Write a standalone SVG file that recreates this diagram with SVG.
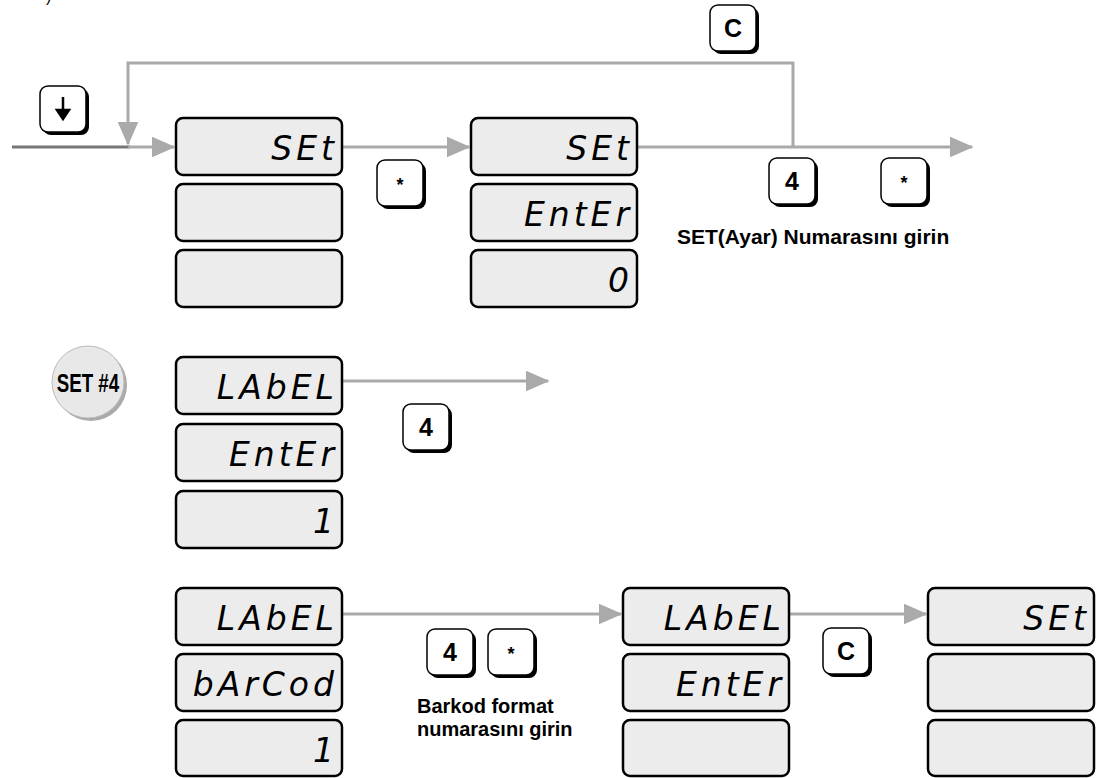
<svg xmlns="http://www.w3.org/2000/svg" width="1105" height="778" viewBox="0 0 1105 778">
<style>
.lcd{fill:#ececec;stroke:#000;stroke-width:2.5}
.seg{font-family:"DejaVu Sans",sans-serif;font-style:italic;font-size:33px;fill:#000;text-anchor:end;letter-spacing:4px}
.kshadow{fill:#000}
.kface{fill:#fff;stroke:#000;stroke-width:1.5}
.klbl{font-family:"Liberation Sans",Arial,sans-serif;font-weight:bold;font-size:25px;text-anchor:middle;fill:#000}
.kstar{font-family:"Liberation Sans",Arial,sans-serif;font-weight:bold;font-size:18px;text-anchor:middle;fill:#000}
.note{font-family:"Liberation Sans",Arial,sans-serif;font-weight:bold;font-size:21px;fill:#000}
.note2{font-family:"Liberation Sans",Arial,sans-serif;font-weight:bold;font-size:20px;fill:#000}
.line{fill:none;stroke:#aaa;stroke-width:3}
</style>
<defs>
<marker id="ah" markerWidth="8" markerHeight="7" refX="7.5" refY="3.5" orient="auto" markerUnits="strokeWidth">
<path d="M0,0 L8,3.5 L0,7 Z" fill="#aaa"/>
</marker>
<g id="key">
<rect class="kshadow" x="3" y="3" width="46" height="46" rx="8"/>
<rect class="kface" x="0" y="0" width="46" height="46" rx="8"/>
</g>
</defs>
<rect width="1105" height="778" fill="#fff"/>
<text x="46" y="2" font-family="Liberation Sans, sans-serif" font-size="16">)</text>

<g id="connectors">
<line x1="12" y1="147" x2="130" y2="147" stroke="#777" stroke-width="3"/>
<line class="line" x1="128" y1="147" x2="174" y2="147" marker-end="url(#ah)"/>
<polyline class="line" points="793,147 793,63 128,63 128,144" marker-end="url(#ah)"/>
<line class="line" x1="342" y1="147" x2="469" y2="147" marker-end="url(#ah)"/>
<line class="line" x1="637" y1="147" x2="972" y2="147" marker-end="url(#ah)"/>
<line class="line" x1="342" y1="381" x2="548" y2="381" marker-end="url(#ah)"/>
<line class="line" x1="342" y1="614" x2="621" y2="614" marker-end="url(#ah)"/>
<line class="line" x1="789" y1="614" x2="926" y2="614" marker-end="url(#ah)"/>
</g>

<g id="key-down"><use href="#key" x="40" y="86"/><path d="M63,97 V116 M57,110 L63,119 L69,110 Z" stroke="#000" stroke-width="2.5" fill="#000"/></g>

<g id="lcd1">
<rect class="lcd" x="176" y="118" width="166" height="57" rx="7"/>
<text class="seg" x="338" y="160">SEt</text>
<rect class="lcd" x="176" y="184" width="166" height="57" rx="7"/>
<rect class="lcd" x="176" y="250" width="166" height="57" rx="7"/>
</g>
<g id="key-star1"><use href="#key" x="377" y="160"/><text class="kstar" x="400" y="191">*</text></g>

<g id="lcd2">
<rect class="lcd" x="471" y="118" width="166" height="57" rx="7"/>
<text class="seg" x="633" y="160">SEt</text>
<rect class="lcd" x="471" y="184" width="166" height="57" rx="7"/>
<text class="seg" x="633" y="226">EntEr</text>
<rect class="lcd" x="471" y="250" width="166" height="57" rx="7"/>
<text class="seg" x="633" y="292">0</text>
</g>

<g id="key-c1"><use href="#key" x="710" y="5"/><text class="klbl" x="733" y="37">C</text></g>
<g id="key-4a"><use href="#key" x="769" y="158"/><text class="klbl" x="792" y="190">4</text></g>
<g id="key-star2"><use href="#key" x="881" y="158"/><text class="kstar" x="904" y="189">*</text></g>
<text class="note" x="677" y="244">SET(Ayar) Numarasını girin</text>

<g id="set4">
<circle cx="91" cy="385" r="36" fill="#aaa"/>
<circle cx="88" cy="382" r="36" fill="#e8e8e8" stroke="#bbb" stroke-width="1"/>
<text x="88" y="392" font-family="Liberation Sans, Arial, sans-serif" font-weight="bold" font-size="26" text-anchor="middle" transform="translate(88 0) scale(0.72 1) translate(-88 0)">SET #4</text>
</g>

<g id="lcd3">
<rect class="lcd" x="176" y="357" width="166" height="57" rx="7"/>
<text class="seg" x="338" y="399">LAbEL</text>
<rect class="lcd" x="176" y="424" width="166" height="57" rx="7"/>
<text class="seg" x="338" y="466">EntEr</text>
<rect class="lcd" x="176" y="491" width="166" height="57" rx="7"/>
<text class="seg" x="338" y="533">1</text>
</g>
<g id="key-4b"><use href="#key" x="403" y="404"/><text class="klbl" x="426" y="436">4</text></g>

<g id="lcd4">
<rect class="lcd" x="176" y="588" width="166" height="57" rx="7"/>
<text class="seg" x="338" y="630">LAbEL</text>
<rect class="lcd" x="176" y="654" width="166" height="57" rx="7"/>
<text class="seg" x="338" y="696">bArCod</text>
<rect class="lcd" x="176" y="720" width="166" height="56" rx="7"/>
<text class="seg" x="338" y="762">1</text>
</g>
<g id="key-4c"><use href="#key" x="427" y="629"/><text class="klbl" x="450" y="661">4</text></g>
<g id="key-star3"><use href="#key" x="488" y="629"/><text class="kstar" x="511" y="660">*</text></g>
<text class="note2" x="417" y="713">Barkod format</text>
<text class="note2" x="417" y="736">numarasını girin</text>

<g id="lcd5">
<rect class="lcd" x="623" y="588" width="166" height="57" rx="7"/>
<text class="seg" x="785" y="630">LAbEL</text>
<rect class="lcd" x="623" y="654" width="166" height="57" rx="7"/>
<text class="seg" x="785" y="696">EntEr</text>
<rect class="lcd" x="623" y="720" width="166" height="56" rx="7"/>
</g>
<g id="key-c2"><use href="#key" x="823" y="628"/><text class="klbl" x="846" y="660">C</text></g>

<g id="lcd6">
<rect class="lcd" x="928" y="588" width="166" height="57" rx="7"/>
<text class="seg" x="1090" y="630">SEt</text>
<rect class="lcd" x="928" y="654" width="166" height="57" rx="7"/>
<rect class="lcd" x="928" y="720" width="166" height="56" rx="7"/>
</g>
</svg>
